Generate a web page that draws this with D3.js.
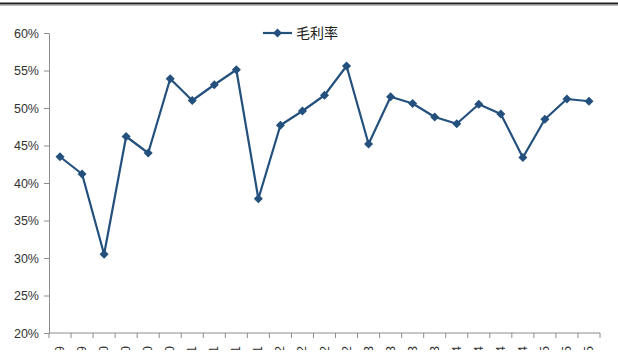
<!DOCTYPE html>
<html>
<head>
<meta charset="utf-8">
<script src="https://cdn.jsdelivr.net/npm/d3@7"></script>
<style>
  body { margin: 0; background: #fff; }
  svg { display: block; font-family: "Liberation Sans", Arial, sans-serif; }
</style>
</head>
<body>
<div id="chart"></div>
<script>
// quarters (labels are cut off in the original picture)
const quarters = [
    "3Q09", "4Q09",
    "1Q10", "2Q10", "3Q10", "4Q10",
    "1Q11", "2Q11", "3Q11", "4Q11",
    "1Q12", "2Q12", "3Q12", "4Q12",
    "1Q13", "2Q13", "3Q13", "4Q13",
    "1Q14", "2Q14", "3Q14", "4Q14",
    "1Q15", "2Q15", "3Q15"
];
// gross margin, %
const grossMargin = [
    43.5, 41.2, 30.5, 46.2, 44.0, 53.9, 51.0, 53.1, 55.1, 37.9,
    47.7, 49.6, 51.7, 55.6, 45.2, 51.5, 50.6, 48.8, 47.9, 50.5,
    49.2, 43.4, 48.5, 51.2, 50.9
];
const yTicks = [20, 25, 30, 35, 40, 45, 50, 55, 60];
const seriesName = "毛利率";

const width = 618, height = 360;
const margin = { top: 33, right: 18, bottom: 27, left: 49 };
const color = "#23507c";

const svg = d3.select("#chart")
    .append("svg")
    .attr("width", width)
    .attr("height", height);

// the source image was cropped just under the axis labels
svg.append("defs").append("clipPath")
    .attr("id", "crop")
    .append("rect")
    .attr("x", 0).attr("y", 0)
    .attr("width", width).attr("height", 350);

// double rule at the very top
svg.append("line")
    .attr("x1", 0).attr("x2", width)
    .attr("y1", 3.5).attr("y2", 3.5)
    .attr("stroke", "#222").attr("stroke-width", 2);
svg.append("line")
    .attr("x1", 0).attr("x2", width)
    .attr("y1", 5.5).attr("y2", 5.5)
    .attr("stroke", "#bbb").attr("stroke-width", 1);

const x = d3.scaleBand()
    .domain(quarters)
    .range([margin.left, width - margin.right]);

const y = d3.scaleLinear()
    .domain([20, 60])
    .range([height - margin.bottom, margin.top]);

// y axis
const yAxis = svg.append("g")
    .attr("transform", `translate(${margin.left},0)`)
    .call(d3.axisLeft(y).tickValues(yTicks).tickFormat(d => d + "%").tickSize(5).tickSizeOuter(0));
yAxis.select(".domain").attr("stroke", "#8c8c8c");
yAxis.selectAll(".tick line").attr("stroke", "#8c8c8c");
yAxis.selectAll(".tick text")
    .attr("fill", "#333")
    .attr("font-size", 12.5)
    .attr("x", -10);

// x axis: ticks between categories
const xAxis = svg.append("g")
    .attr("transform", `translate(0,${height - margin.bottom})`);
xAxis.append("line")
    .attr("x1", x.range()[0]).attr("x2", x.range()[1])
    .attr("stroke", "#8c8c8c");
xAxis.selectAll(".tick")
    .data(quarters.concat([null]))
    .join("line")
    .attr("x1", (d, i) => x.range()[0] + i * x.step())
    .attr("x2", (d, i) => x.range()[0] + i * x.step())
    .attr("y1", 0).attr("y2", 5)
    .attr("stroke", "#8c8c8c");

// labels: only their top few pixels survive the crop
svg.append("g")
    .attr("clip-path", "url(#crop)")
    .selectAll("text")
    .data(quarters)
    .join("text")
    .attr("transform", d => `translate(${x(d) + x.bandwidth() / 2 + 4},${height - margin.bottom + 13}) rotate(-90)`)
    .attr("text-anchor", "end")
    .attr("font-size", 12.5)
    .attr("fill", "#333")
    .text(d => d);

// line
const line = d3.line()
    .x((d, i) => x(quarters[i]) + x.bandwidth() / 2)
    .y(d => y(d));

svg.append("path")
    .datum(grossMargin)
    .attr("fill", "none")
    .attr("stroke", color)
    .attr("stroke-width", 2.2)
    .attr("stroke-linejoin", "round")
    .attr("d", line);

const diamond = d3.symbol().type(d3.symbolDiamond2).size(52);
svg.append("g")
    .selectAll("path")
    .data(grossMargin)
    .join("path")
    .attr("transform", (d, i) => `translate(${x(quarters[i]) + x.bandwidth() / 2},${y(d)})`)
    .attr("d", diamond)
    .attr("fill", color);

// legend
const legend = svg.append("g").attr("transform", "translate(263,33)");
legend.append("line")
    .attr("x1", 0).attr("x2", 29)
    .attr("stroke", color).attr("stroke-width", 2.2);
legend.append("path")
    .attr("transform", "translate(14.5,0)")
    .attr("d", diamond)
    .attr("fill", color);
legend.append("text")
    .attr("x", 33).attr("y", 5)
    .attr("font-size", 14)
    .attr("font-family", "'Noto Sans CJK SC', sans-serif")
    .attr("fill", "#222")
    .text(seriesName);
</script>
</body>
</html>
